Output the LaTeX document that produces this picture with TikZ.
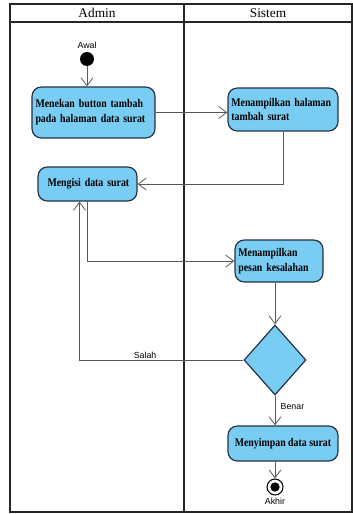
\documentclass[tikz,border=0pt]{standalone}
\usepackage{fontspec}
\setmainfont{Liberation Serif}
\newfontfamily\labelfont{Liberation Sans}
\newfontfamily\actfont[FakeStretch=0.84]{Liberation Serif}
\usepackage{tikz}
\usetikzlibrary{arrows.meta,shapes.geometric,calc}
\definecolor{actfill}{RGB}{122,205,242}
\definecolor{actline}{RGB}{35,50,70}

\begin{document}
\begin{tikzpicture}[x=0.75pt,y=-0.75pt,
  act/.style={draw=actline,fill=actfill,line width=0.9pt,rounded corners=7pt,
    font=\actfont\bfseries\fontsize{8.8}{11}\selectfont,align=left,inner sep=2.5pt},
  flow/.style={draw=black!65,line width=0.6pt,-{Straight Barb[length=6pt,width=9pt]}},
  lbl/.style={font=\labelfont\fontsize{6.6}{7.5}\selectfont,inner sep=1pt},
  lane/.style={draw=black!85,line width=0.8pt}]
\useasboundingbox (0,0) rectangle (353,514);
% swimlanes
\draw[lane] (10,4) rectangle (352,512);
\draw[lane] (10,22) -- (352,22);
\draw[lane] (184,4) -- (184,512);
\node (admin) at (97,13) {\fontsize{10}{11}\selectfont Admin};
\node (sistem) at (268,13) {\fontsize{10}{11}\selectfont Sistem};
% nodes
\node[circle,fill=black,minimum size=10.5pt,inner sep=0] (awal) at (87,59) {};
\node[lbl,above=1pt] at (awal.north) {Awal};
\node[act,minimum width=92.25pt,minimum height=38.25pt,text width=87pt] (tambah) at (93.5,112.5)
  {Menekan button tambah\\pada halaman data surat};
\node[act,minimum width=82.5pt,minimum height=32.25pt,text width=77.5pt] (halaman) at (283,109.5)
  {Menampilkan halaman\\tambah surat};
\node[act,minimum width=74.25pt,minimum height=25.5pt,text width=66pt] (isi) at (87.5,184)
  {\hspace*{3pt}Mengisi data surat};
\node[act,minimum width=66pt,minimum height=31.5pt,text width=61pt] (pesan) at (279,261)
  {Menampilkan\\pesan kesalahan};
\node[diamond,draw=actline,fill=actfill,line width=0.9pt,inner sep=0,
  minimum width=46.5pt,minimum height=52.5pt] (cek) at (275,360) {};
\node[act,minimum width=82.5pt,minimum height=26.25pt,align=center] (simpan) at (283,443.5)
  {Menyimpan data surat};
\node[circle,draw=black,line width=0.8pt,minimum size=12pt,inner sep=0] (akhir) at (275,487) {};
\node[circle,fill=black,minimum size=7pt,inner sep=0] at (akhir) {};
\node[lbl,below=1pt] at (akhir.south) {Akhir};
% connectors
\draw[flow] (awal) -- (awal |- tambah.north);
\draw[flow] (tambah.east) -- (halaman.west |- tambah.east);
\draw[flow] (halaman.south) |- (isi.east);
\draw[flow] (isi.south) |- (pesan.west);
\draw[flow] (pesan.south -| cek) -- (cek.north);
\draw[flow] (cek.west) -| node[lbl,pos=0.3,above] {Salah} ([xshift=-6pt]isi.south);
\draw[flow] (cek.south) -- node[lbl,pos=0.35,right=3pt] {Benar} (simpan.north -| cek);
\draw[flow] (simpan.south -| akhir) -- (akhir.north);
\end{tikzpicture}
\end{document}
